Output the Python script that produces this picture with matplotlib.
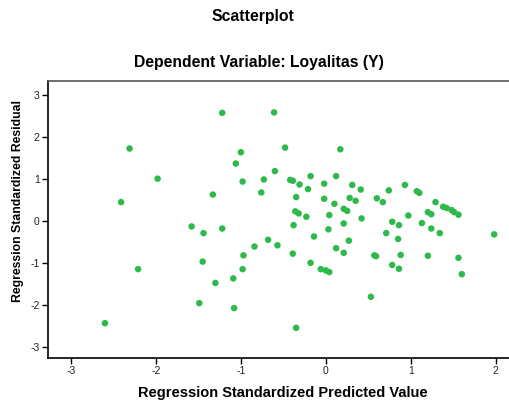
import matplotlib
matplotlib.use("Agg")
import matplotlib.pyplot as plt

plt.rcParams['font.family'] = ['Liberation Sans', 'DejaVu Sans']

predicted = [
    -1.22, -0.61, -2.31, -1.00, -1.06, -0.60, -1.98, -0.73, -0.98, -0.76,
    -1.33, -2.41, -0.48, 0.17, -0.42, -0.39, -0.31, -0.18, -0.21, -0.02,
    0.12, 0.31, 0.41, -0.35, -0.02, 0.10, 0.28, 0.35, 0.60, 0.67,
    0.74, 0.93, 1.07, 1.10, 1.29, 1.38, 1.42, 1.48, 1.51, 1.56,
    -0.36, -0.32, -0.23, 0.04, 0.21, 0.25, 0.42, 0.78, 0.97, 1.20,
    1.24, -0.38, 0.03, 0.21, 0.86, 1.13, 1.24, 1.34, -0.14, 0.71,
    0.85, -0.68, -0.57, 0.27, 0.12, 0.21, -0.39, 0.57, 0.59, 0.88,
    1.20, 1.98, 1.56, 1.60, -0.18, -0.06, 0.00, 0.04, 0.78, 0.86,
    0.53, -0.35, -1.58, -1.44, -1.22, -0.84, -0.97, -2.21, -1.45, -0.98,
    -1.09, -1.30, -1.49, -1.08, -2.60,
]
residual = [
    2.58, 2.59, 1.73, 1.64, 1.37, 1.19, 1.01, 0.99, 0.94, 0.68,
    0.63, 0.45, 1.75, 1.71, 0.98, 0.96, 0.87, 1.07, 0.76, 0.89,
    1.07, 0.86, 0.75, 0.57, 0.53, 0.41, 0.55, 0.48, 0.54, 0.45,
    0.73, 0.86, 0.71, 0.67, 0.45, 0.34, 0.31, 0.26, 0.21, 0.15,
    0.23, 0.18, 0.10, 0.14, 0.29, 0.24, 0.06, -0.02, 0.13, 0.21,
    0.16, -0.10, -0.20, -0.06, -0.10, -0.05, -0.18, -0.29, -0.37, -0.29,
    -0.43, -0.45, -0.58, -0.47, -0.65, -0.76, -0.78, -0.82, -0.84, -0.81,
    -0.83, -0.32, -0.88, -1.27, -1.00, -1.15, -1.18, -1.22, -1.05, -1.14,
    -1.81, -2.55, -0.13, -0.29, -0.18, -0.61, -0.82, -1.15, -0.97, -1.15,
    -1.37, -1.48, -1.96, -2.08, -2.44,
]
x_ticks = [-3, -2, -1, 0, 1, 2]
y_ticks = [-3, -2, -1, 0, 1, 2, 3]

W, H = 510, 405
fig = plt.figure(figsize=(W / 100, H / 100), dpi=100)
ax = fig.add_axes([48 / W, 1 - 358 / H, (512 - 48) / W, (358 - 81) / H])

ax.scatter(predicted, residual, s=22, color='#2DBA4B', edgecolors='none', zorder=3)

ax.set_xlim(-3.27, 2.19)
ax.set_ylim(-3.27, 3.34)
ax.set_xticks(x_ticks)
ax.set_yticks(y_ticks)
ax.set_xticklabels([str(v) for v in x_ticks])
ax.set_yticklabels([str(v) for v in y_ticks])
ax.tick_params(axis='both', direction='out', length=4, width=1, color='black',
               labelsize=7.5, labelcolor='#222222', pad=2)

for side in ['left', 'bottom']:
    ax.spines[side].set_color('black')
    ax.spines[side].set_linewidth(1.2)
ax.spines['top'].set_color('#555555')
ax.spines['top'].set_linewidth(1.2)
ax.spines['right'].set_visible(False)

ax.set_xlabel('Regression Standardized Predicted Value', fontsize=10.5, fontweight='bold',
              va='center')
ax.xaxis.set_label_coords((283 - 48) / 464, (358 - 393) / 277)
ax.set_ylabel('Regression Standardized Residual', fontsize=8.8, fontweight='bold',
              va='center')
ax.yaxis.set_label_coords((18 - 48) / 464, (358 - 201) / 277)

fig.text(253 / W, 1 - 16 / H, 'Scatterplot', ha='center', va='center', fontsize=11.3, fontweight='bold')
fig.text(259 / W, 1 - 62 / H, 'Dependent Variable: Loyalitas (Y)', ha='center', va='center',
         fontsize=11.3, fontweight='bold')

fig.savefig('out.png', dpi=100)
